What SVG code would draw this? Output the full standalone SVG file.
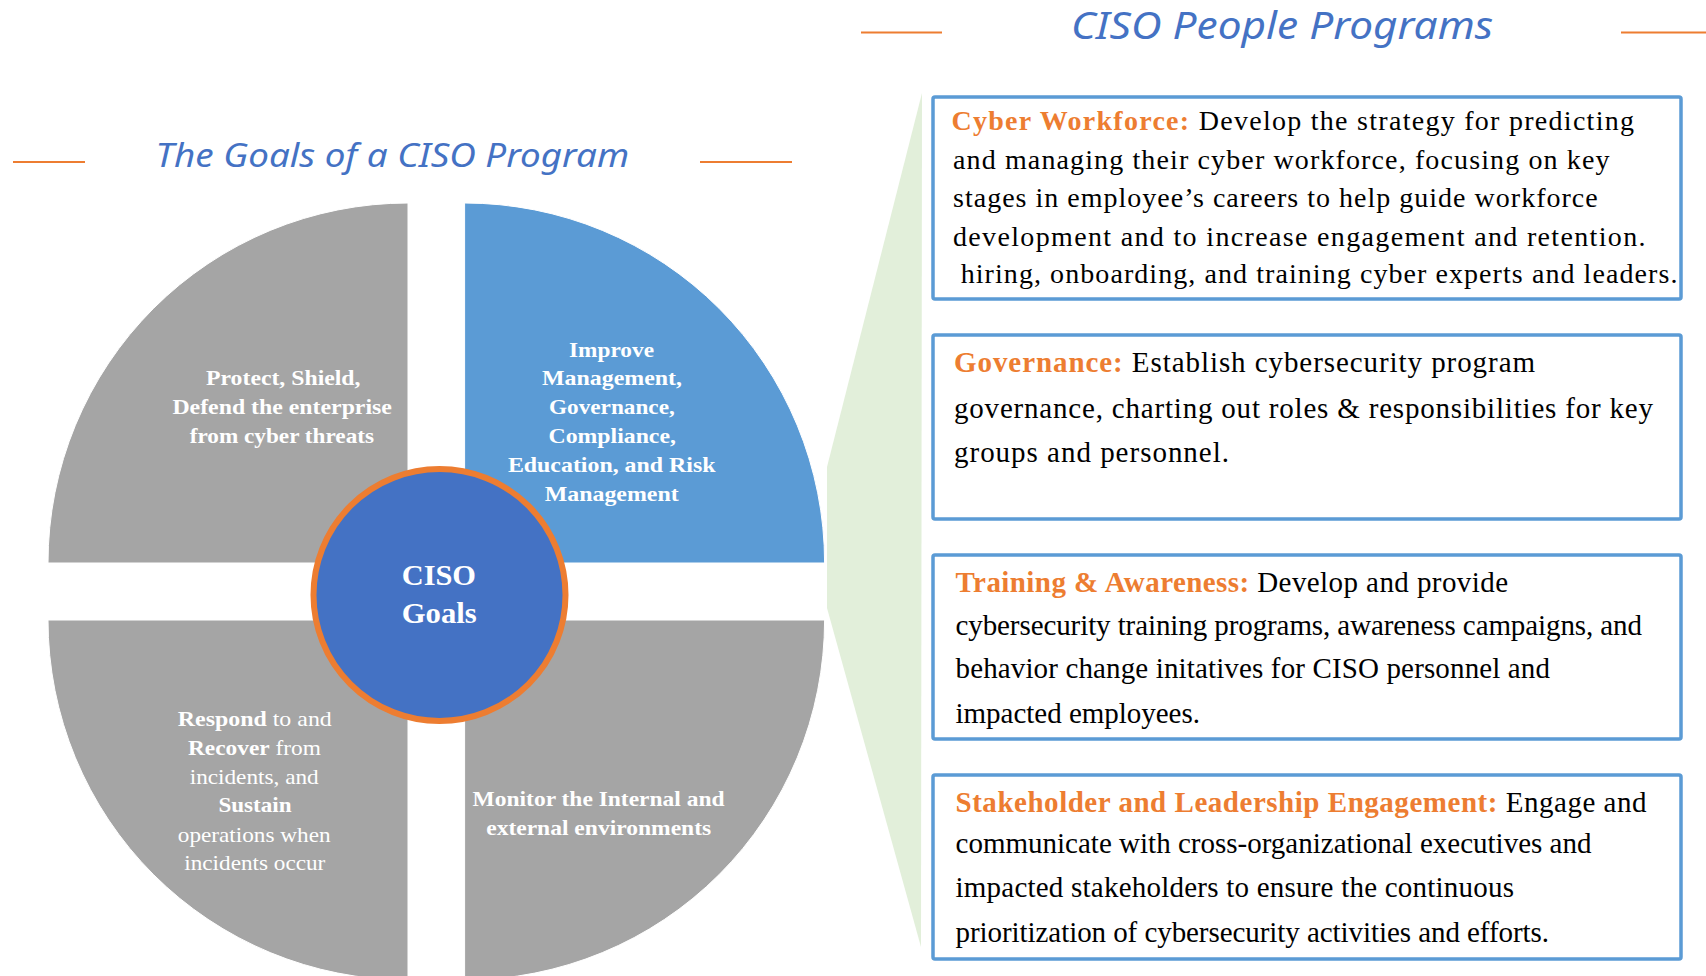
<svg xmlns="http://www.w3.org/2000/svg" width="1706" height="976" viewBox="0 0 1706 976">
  <defs>
    <style>
      .hand { font-family: "Noto Sans", "Open Sans", sans-serif; font-style: italic; fill: #4472C4; }
      .rule { stroke: #ED7D31; stroke-width: 2; fill: none; }
      .quad-gray { fill: #A5A5A5; stroke: #FFFFFF; stroke-width: 1; }
      .quad-blue { fill: #5B9BD5; stroke: #FFFFFF; stroke-width: 1; }
      .qtext { font-family: "Liberation Serif", "Times New Roman", serif; font-size: 22px; fill: #FFFFFF; font-weight: bold; }
      .reg { font-weight: normal; }
      .core { font-family: "Liberation Serif", "Times New Roman", serif; font-size: 30px; font-weight: bold; fill: #FFFFFF; }
      .card { fill: #FFFFFF; stroke: #5B9BD5; stroke-width: 3.5; }
      .body { font-family: "Liberation Serif", "Times New Roman", serif; font-size: 29px; fill: #000000; }
      .body.small { font-size: 28px; }
      .lead { fill: #ED7D31; font-weight: bold; }
    </style>
  </defs>

  <rect x="0" y="0" width="1706" height="976" fill="#FFFFFF"/>

  <!-- Section headings -->
  <g id="title-goals">
    <line class="rule" x1="13" y1="162" x2="85" y2="162"/>
    <line class="rule" x1="700" y1="162" x2="792" y2="162"/>
    <text class="hand" x="155.6" y="166.7" font-size="32" textLength="473.5" lengthAdjust="spacingAndGlyphs">The Goals of a CISO Program</text>
  </g>
  <g id="title-people">
    <line class="rule" x1="861" y1="32.5" x2="942" y2="32.5"/>
    <line class="rule" x1="1621" y1="32.5" x2="1706" y2="32.5"/>
    <text class="hand" x="1071" y="39.3" font-size="38" textLength="422" lengthAdjust="spacingAndGlyphs">CISO People Programs</text>
  </g>

  <!-- Callout wedge linking the goals wheel to the programs list -->
  <g id="connectors">
    <polygon points="922,93 827,467 827,608 921,947" fill="#E2EFDA"/>
  </g>

  <!-- Goals wheel: four quadrants -->
  <g id="goal-protect">
    <path class="quad-gray" d="M408,563 L48,563 A360,360 0 0 1 408,203 Z"/>
    <text class="qtext" x="206" y="385" textLength="154.5" lengthAdjust="spacingAndGlyphs">Protect, Shield,</text>
    <text class="qtext" x="172.4" y="414" textLength="219.5" lengthAdjust="spacingAndGlyphs">Defend the enterprise</text>
    <text class="qtext" x="189.7" y="442.7" textLength="184.3" lengthAdjust="spacingAndGlyphs">from cyber threats</text>
  </g>

  <g id="goal-improve">
    <path class="quad-blue" d="M464.6,563 L464.6,203 A360,360 0 0 1 824.6,563 Z"/>
    <text class="qtext" x="569" y="356.7" textLength="85" lengthAdjust="spacingAndGlyphs">Improve</text>
    <text class="qtext" x="542" y="385" textLength="140" lengthAdjust="spacingAndGlyphs">Management,</text>
    <text class="qtext" x="549" y="414" textLength="125.8" lengthAdjust="spacingAndGlyphs">Governance,</text>
    <text class="qtext" x="548.5" y="442.7" textLength="127.4" lengthAdjust="spacingAndGlyphs">Compliance,</text>
    <text class="qtext" x="507.9" y="471.7" textLength="207.6" lengthAdjust="spacingAndGlyphs">Education, and Risk</text>
    <text class="qtext" x="544.7" y="500.7" textLength="134" lengthAdjust="spacingAndGlyphs">Management</text>
  </g>

  <g id="goal-respond">
    <path class="quad-gray" d="M408,620 L408,980 A360,360 0 0 1 48,620 Z"/>
    <text class="qtext" x="177.8" y="725.7" textLength="154" lengthAdjust="spacingAndGlyphs">Respond<tspan class="reg"> to and</tspan></text>
    <text class="qtext" x="188" y="755" textLength="132.8" lengthAdjust="spacingAndGlyphs">Recover<tspan class="reg"> from</tspan></text>
    <text class="qtext reg" x="189.7" y="784" textLength="129" lengthAdjust="spacingAndGlyphs">incidents, and</text>
    <text class="qtext" x="218.4" y="812.3" textLength="73.2" lengthAdjust="spacingAndGlyphs">Sustain</text>
    <text class="qtext reg" x="177.8" y="841.7" textLength="152.8" lengthAdjust="spacingAndGlyphs">operations when</text>
    <text class="qtext reg" x="184.3" y="870" textLength="141" lengthAdjust="spacingAndGlyphs">incidents occur</text>
  </g>

  <g id="goal-monitor">
    <path class="quad-gray" d="M464.6,620 L824.6,620 A360,360 0 0 1 464.6,980 Z"/>
    <text class="qtext" x="472.6" y="805.7" textLength="252" lengthAdjust="spacingAndGlyphs">Monitor the Internal and</text>
    <text class="qtext" x="486.2" y="835" textLength="225" lengthAdjust="spacingAndGlyphs">external environments</text>
  </g>

  <!-- Hub -->
  <g id="ciso-goals">
    <circle cx="439.5" cy="595" r="126" fill="#4472C4" stroke="#ED7D31" stroke-width="6"/>
    <text class="core" x="401.7" y="585" textLength="74.3" lengthAdjust="spacingAndGlyphs">CISO</text>
    <text class="core" x="401.7" y="622.7" textLength="75" lengthAdjust="spacingAndGlyphs">Goals</text>
  </g>

  <!-- Program cards -->
  <g id="program-workforce">
    <rect class="card" x="933" y="97" width="748" height="202" rx="2"/>
    <text class="body small" x="951.4" y="130" textLength="682.6" lengthAdjust="spacing"><tspan class="lead">Cyber Workforce:</tspan> Develop the strategy for predicting</text>
    <text class="body small" x="953" y="168.5" textLength="656.5" lengthAdjust="spacing">and managing their cyber workforce, focusing on key</text>
    <text class="body small" x="953" y="207" textLength="644.7" lengthAdjust="spacing">stages in employee’s careers to help guide workforce</text>
    <text class="body small" x="953" y="245.5" textLength="692.5" lengthAdjust="spacing">development and to increase engagement and retention.</text>
    <text class="body small" x="960.7" y="283.3" textLength="716.7" lengthAdjust="spacing">hiring, onboarding, and training cyber experts and leaders.</text>
  </g>

  <g id="program-governance">
    <rect class="card" x="933" y="335" width="748" height="184" rx="2"/>
    <text class="body" x="954" y="371.5" textLength="581" lengthAdjust="spacing"><tspan class="lead">Governance:</tspan> Establish cybersecurity program</text>
    <text class="body" x="954" y="417.5" textLength="699" lengthAdjust="spacing">governance, charting out roles &amp; responsibilities for key</text>
    <text class="body" x="954" y="462" textLength="275" lengthAdjust="spacing">groups and personnel.</text>
  </g>

  <g id="program-training">
    <rect class="card" x="933" y="555" width="748" height="184" rx="2"/>
    <text class="body" x="955.5" y="591.7" textLength="552.5" lengthAdjust="spacing"><tspan class="lead">Training &amp; Awareness:</tspan> Develop and provide</text>
    <text class="body" x="955.5" y="635" textLength="686.5" lengthAdjust="spacing">cybersecurity training programs, awareness campaigns, and</text>
    <text class="body" x="955.5" y="678.3" textLength="594.5" lengthAdjust="spacing">behavior change initatives for CISO personnel and</text>
    <text class="body" x="955.5" y="722.7" textLength="244.5" lengthAdjust="spacing">impacted employees.</text>
  </g>

  <g id="program-engagement">
    <rect class="card" x="933" y="775" width="748" height="184" rx="2"/>
    <text class="body" x="955.5" y="811.7" textLength="691" lengthAdjust="spacing"><tspan class="lead">Stakeholder and Leadership Engagement:</tspan> Engage and</text>
    <text class="body" x="955.5" y="853.3" textLength="636" lengthAdjust="spacing">communicate with cross-organizational executives and</text>
    <text class="body" x="955.5" y="896.7" textLength="558.5" lengthAdjust="spacing">impacted stakeholders to ensure the continuous</text>
    <text class="body" x="955.5" y="941.7" textLength="593.5" lengthAdjust="spacing">prioritization of  cybersecurity activities and efforts.</text>
  </g>
</svg>
